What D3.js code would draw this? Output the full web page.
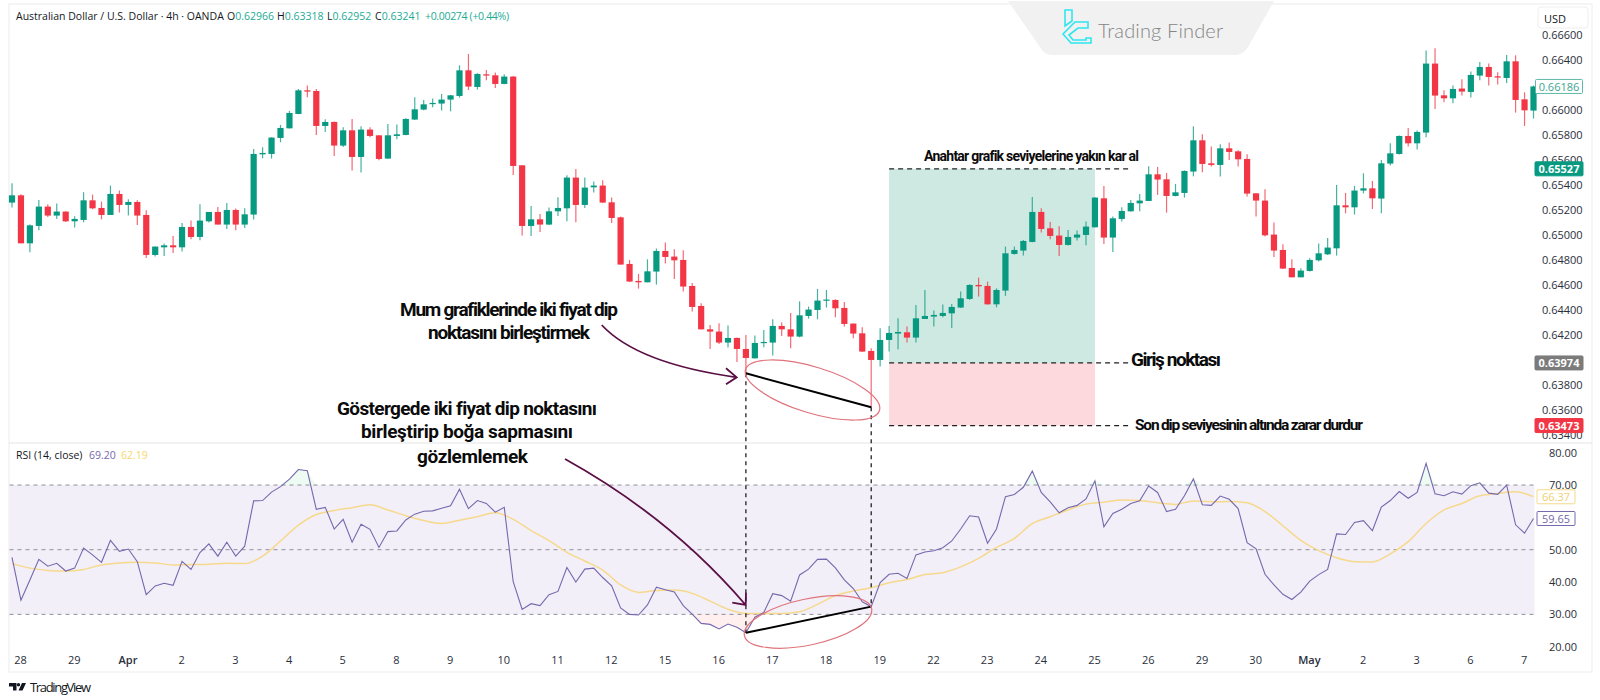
<!DOCTYPE html>
<html lang="tr">
<head>
<meta charset="utf-8">
<title>AUD/USD 4h RSI</title>
<script src="https://d3js.org/d3.v7.min.js"></script>
<style>
  html, body { margin: 0; background: #fff; }
  svg { display: block; }
  text { font-family: "Open Sans", sans-serif; fill: #131722; }
  .tick text { font-size: 11px; fill: #2a2e39; }
  .note { font-family: Roboto, sans-serif; font-weight: 700; fill: #0b0b0b; }
</style>
</head>
<body>
<svg class="chart" width="1600" height="700"></svg>
<script>
// candles, one per 4h bar
var opens = [
0.65257,0.65315,0.64931,0.65070,0.65225,0.65153,0.65185,0.65107,0.65118,0.65275,
0.65214,0.65158,0.65326,0.65238,0.65262,0.65158,0.64838,0.64899,0.64915,0.64899,
0.65062,0.64982,0.65107,0.65182,0.65081,0.65198,0.65081,0.65161,0.65643,0.65646,
0.65774,0.65851,0.65966,0.66155,0.66150,0.65870,0.65902,0.65713,0.65835,0.65622,
0.65841,0.65795,0.65609,0.65790,0.65798,0.65921,0.66001,0.66046,0.66049,0.66081,
0.66110,0.66315,0.66182,0.66283,0.66275,0.66206,0.66265,0.65555,0.65070,0.65123,
0.65081,0.65187,0.65211,0.65457,0.65238,0.65379,0.65393,0.65259,0.65139,0.64766,
0.64630,0.64619,0.64705,0.64870,0.64825,0.64798,0.64590,0.64430,0.64243,0.64225,
0.64137,0.64174,0.64086,0.64011,0.64134,0.64137,0.64270,0.64243,0.64185,0.64350,
0.64398,0.64473,0.64478,0.64414,0.64289,0.64211,0.64070,0.63998,0.64158,0.64209,
0.64219,0.64177,0.64326,0.64345,0.64350,0.64371,0.64417,0.64486,0.64598,0.64590,
0.64443,0.64553,0.64846,0.64873,0.64942,0.65182,0.65051,0.64993,0.64918,0.64977,
0.64998,0.65059,0.65291,0.64977,0.65126,0.65187,0.65251,0.65270,0.65483,0.65443,
0.65310,0.65334,0.65505,0.65755,0.65571,0.65558,0.65691,0.65667,0.65606,0.65331,
0.65273,0.65001,0.64878,0.64734,0.64659,0.64710,0.64795,0.64843,0.64891,0.65235,
0.65219,0.65353,0.65371,0.65289,0.65569,0.65646,0.65790,0.65731,0.65817,0.66369,
0.66115,0.66091,0.66169,0.66142,0.66273,0.66342,0.66267,0.66254,0.66387,0.66083,0.65993];
var highs = [
0.65411,0.65323,0.65081,0.65278,0.65243,0.65249,0.65187,0.65147,0.65339,0.65321,
0.65265,0.65393,0.65353,0.65283,0.65275,0.65195,0.64905,0.64929,0.64990,0.65094,
0.65113,0.65243,0.65182,0.65222,0.65254,0.65209,0.65211,0.65686,0.65699,0.65779,
0.65878,0.65990,0.66166,0.66193,0.66166,0.65923,0.65905,0.65859,0.65926,0.65867,
0.65859,0.65795,0.65886,0.65881,0.65931,0.66099,0.66078,0.66089,0.66126,0.66118,
0.66355,0.66446,0.66291,0.66318,0.66297,0.66283,0.66270,0.65555,0.65230,0.65166,
0.65217,0.65299,0.65475,0.65526,0.65457,0.65425,0.65435,0.65297,0.65145,0.64798,
0.64686,0.64803,0.64889,0.64937,0.64883,0.64875,0.64614,0.64451,0.64278,0.64291,
0.64273,0.64177,0.64198,0.64193,0.64238,0.64323,0.64297,0.64374,0.64467,0.64425,
0.64566,0.64558,0.64483,0.64462,0.64289,0.64259,0.64091,0.64251,0.64270,0.64331,
0.64265,0.64438,0.64558,0.64393,0.64441,0.64446,0.64545,0.64603,0.64657,0.64625,
0.64571,0.64905,0.64905,0.64958,0.65302,0.65211,0.65102,0.65067,0.65038,0.65033,
0.65105,0.65299,0.65390,0.65145,0.65219,0.65278,0.65326,0.65547,0.65542,0.65494,
0.65406,0.65515,0.65867,0.65803,0.65705,0.65723,0.65737,0.65675,0.65643,0.65331,
0.65363,0.65097,0.64923,0.64803,0.64731,0.64811,0.64929,0.64974,0.65398,0.65334,
0.65390,0.65491,0.65430,0.65598,0.65731,0.65793,0.65854,0.65833,0.66473,0.66491,
0.66155,0.66193,0.66243,0.66305,0.66382,0.66369,0.66299,0.66438,0.66435,0.66139,0.66193];
var lows = [
0.65217,0.64931,0.64859,0.65035,0.65142,0.65126,0.65102,0.65057,0.65099,0.65203,
0.65123,0.65158,0.65177,0.65153,0.65078,0.64814,0.64825,0.64830,0.64854,0.64865,
0.64963,0.64955,0.65097,0.65081,0.65046,0.65035,0.65054,0.65121,0.65611,0.65609,
0.65739,0.65849,0.65963,0.66099,0.65798,0.65822,0.65630,0.65702,0.65513,0.65497,
0.65779,0.65595,0.65606,0.65763,0.65795,0.65918,0.65995,0.66019,0.65993,0.65987,
0.66097,0.66158,0.66161,0.66235,0.66174,0.66203,0.65478,0.64993,0.64990,0.65022,
0.65078,0.65150,0.65107,0.65099,0.65214,0.65337,0.65254,0.65094,0.64761,0.64622,
0.64569,0.64619,0.64601,0.64769,0.64646,0.64545,0.64385,0.64241,0.64086,0.64126,
0.64097,0.63982,0.63891,0.64009,0.64099,0.64033,0.64190,0.64091,0.64179,0.64329,
0.64323,0.64417,0.64339,0.64265,0.64171,0.64062,0.63620,0.63945,0.64065,0.64083,
0.64137,0.64137,0.64326,0.64265,0.64339,0.64254,0.64414,0.64478,0.64505,0.64441,
0.64419,0.64510,0.64841,0.64833,0.64939,0.65017,0.64963,0.64830,0.64913,0.64953,
0.64915,0.65059,0.64926,0.64862,0.65105,0.65185,0.65187,0.65270,0.65318,0.65177,
0.65307,0.65297,0.65467,0.65499,0.65545,0.65465,0.65598,0.65545,0.65305,0.65145,
0.64985,0.64822,0.64726,0.64659,0.64659,0.64705,0.64785,0.64838,0.64833,0.65171,
0.65161,0.65331,0.65206,0.65171,0.65553,0.65641,0.65705,0.65681,0.65779,0.66006,
0.66059,0.66051,0.66113,0.66097,0.66235,0.66193,0.66201,0.66214,0.65977,0.65870,0.65929];
var closes = [
0.65315,0.64931,0.65075,0.65225,0.65153,0.65185,0.65107,0.65126,0.65275,0.65211,
0.65158,0.65326,0.65238,0.65262,0.65153,0.64838,0.64905,0.64915,0.64899,0.65062,
0.64982,0.65113,0.65182,0.65081,0.65198,0.65081,0.65163,0.65646,0.65654,0.65777,
0.65854,0.65974,0.66155,0.66145,0.65870,0.65902,0.65713,0.65835,0.65622,0.65841,
0.65790,0.65606,0.65795,0.65803,0.65926,0.66003,0.66043,0.66054,0.66081,0.66115,
0.66315,0.66185,0.66286,0.66273,0.66206,0.66265,0.65550,0.65070,0.65123,0.65081,
0.65187,0.65214,0.65457,0.65238,0.65377,0.65393,0.65257,0.65134,0.64761,0.64625,
0.64619,0.64707,0.64870,0.64822,0.64795,0.64585,0.64422,0.64243,0.64225,0.64137,
0.64174,0.64086,0.64014,0.64134,0.64142,0.64270,0.64243,0.64185,0.64355,0.64401,
0.64473,0.64481,0.64411,0.64286,0.64209,0.64065,0.63998,0.64158,0.64214,0.64222,
0.64177,0.64331,0.64350,0.64358,0.64374,0.64422,0.64491,0.64598,0.64587,0.64443,
0.64558,0.64851,0.64878,0.64950,0.65182,0.65046,0.64990,0.64918,0.64982,0.65001,
0.65065,0.65297,0.64977,0.65131,0.65190,0.65254,0.65273,0.65483,0.65441,0.65310,
0.65339,0.65510,0.65755,0.65566,0.65558,0.65691,0.65662,0.65603,0.65329,0.65273,
0.64995,0.64873,0.64729,0.64659,0.64713,0.64798,0.64851,0.64897,0.65235,0.65219,
0.65353,0.65371,0.65291,0.65571,0.65651,0.65790,0.65731,0.65822,0.66369,0.66113,
0.66091,0.66166,0.66145,0.66278,0.66342,0.66262,0.66257,0.66387,0.66078,0.65995,0.66186];

var rsiValues = [
47.6,34.4,40.6,47.0,44.9,45.8,43.4,44.3,50.5,48.4,
46.1,52.9,49.5,50.2,46.3,36.1,38.8,39.6,39.0,46.4,
43.9,49.1,51.8,48.0,52.3,48.0,51.1,65.1,65.2,67.8,
69.5,71.8,74.8,74.4,62.5,63.1,56.4,59.4,52.3,57.9,
56.3,50.7,55.6,55.8,59.2,61.0,61.9,62.0,62.8,63.6,
68.7,62.7,65.2,64.3,61.6,63.1,40.1,31.5,33.3,32.7,
36.1,37.1,44.5,40.0,44.0,44.3,41.4,38.8,32.0,30.0,
29.8,32.9,38.4,37.6,36.9,32.7,30.1,27.2,26.9,25.5,
27.0,26.0,24.3,29.1,30.6,36.4,35.8,34.1,42.2,44.0,
47.0,47.1,44.4,40.7,38.0,33.9,32.4,39.8,42.4,42.7,
41.1,48.4,49.3,49.7,50.6,52.7,56.4,60.5,60.1,52.0,
56.4,66.4,67.1,69.3,74.3,67.7,64.8,61.4,63.0,63.7,
65.7,71.3,57.1,61.2,62.5,64.3,65.1,69.7,67.7,61.8,
62.5,66.7,71.9,63.9,63.7,66.6,65.6,62.7,52.2,50.3,
42.4,39.1,36.2,34.6,36.9,40.3,42.3,43.9,54.9,54.7,
58.4,59.0,55.9,63.2,65.2,68.0,65.9,67.7,76.7,67.3,
66.7,67.9,67.2,69.8,70.7,67.5,67.1,70.0,57.7,55.1,59.65];

// yellow line read at every second bar
var rsiMaValues = [
45.7,44.3,43.6,43.4,43.9,45.3,45.9,46.1,45.9,45.3,
45.4,45.5,45.8,45.7,48.0,52.7,57.6,60.9,62.1,63.0,
63.9,62.3,60.5,59.0,58.1,59.1,60.2,61.4,59.4,55.9,
52.8,49.2,46.5,43.7,39.1,36.8,37.4,37.5,36.5,34.1,
31.6,30.3,30.3,30.3,30.8,33.1,35.8,37.2,38.2,39.8,
40.8,42.3,42.9,44.7,47.3,50.7,53.5,58.1,60.2,62.3,
64.1,64.7,65.4,65.2,64.5,64.0,65.1,64.8,64.9,64.5,
61.8,57.4,52.9,49.7,47.5,46.3,46.2,48.7,52.5,58.1,
62.3,64.3,66.7,67.4,67.9,66.37];

var dateLabels = ["28","29","Apr","2","3","4","5","8","9","10","11","12","15","16","17","18","19","22","23","24","25","26","29","30","May","2","3","6","7"];
var priceTicks = [0.634,0.636,0.638,0.642,0.644,0.646,0.648,0.650,0.652,0.654,0.656,0.658,0.660,0.664,0.666];
var rsiTicks = [20,30,40,50,70,80];
var rsiGuides = [70,50,30];

// position tool levels and last-value tags
var targetPrice = 0.65527;
var entryPrice = 0.63974;
var stopPrice = 0.63473;
var lastPrice = 0.66186;
var lastRsi = 59.65;
var lastRsiMa = 66.37;
var legendRsi = "69.20";
var legendRsiMa = "62.19";

var PURPLE = "#7568ad", YELLOW = "#f6d98c", GREEN = "#089981", RED = "#f23645", MAROON = "#5a0f45";

var svg = d3.select(".chart");

var x = d3.scaleLinear().domain([0, closes.length - 1]).range([12, 1533.5]);
var y = d3.scaleLinear().domain([0.634, 0.666]).range([434.7, 34.7]);
var rsiY = d3.scaleLinear().domain([20, 80]).range([646.7, 452.7]);

// frame
svg.append("rect").attr("x", 9).attr("y", 4).attr("width", 1583).attr("height", 668)
  .attr("fill", "none").attr("stroke", "#ececec");
svg.append("line").attr("x1", 9).attr("x2", 1592).attr("y1", 443).attr("y2", 443).attr("stroke", "#e4e4e4");

// long position boxes, behind the candles
var toolStart = 98, toolEnd = 121, levelEnd = 125;
svg.append("rect").attr("x", x(toolStart)).attr("y", y(targetPrice))
  .attr("width", x(toolEnd) - x(toolStart)).attr("height", y(entryPrice) - y(targetPrice)).attr("fill", "#cde9e2");
svg.append("rect").attr("x", x(toolStart)).attr("y", y(entryPrice))
  .attr("width", x(toolEnd) - x(toolStart)).attr("height", y(stopPrice) - y(entryPrice)).attr("fill", "#fdd8dc");

// candles
var bars = svg.append("g").selectAll("g").data(closes).enter().append("g")
  .attr("transform", function(d, i) { return "translate(" + x(i) + ",0)"; })
  .attr("fill", function(d, i) { return d >= opens[i] ? GREEN : RED; })
  .attr("stroke", function(d, i) { return d >= opens[i] ? GREEN : RED; });
bars.append("line")
  .attr("y1", function(d, i) { return y(highs[i]); })
  .attr("y2", function(d, i) { return y(lows[i]); })
  .attr("stroke-width", 1.2).attr("stroke-opacity", 0.75);
bars.append("rect").attr("x", -3.1).attr("width", 6.2).attr("stroke", "none")
  .attr("y", function(d, i) { return y(Math.max(opens[i], d)); })
  .attr("height", function(d, i) { return Math.max(1.2, Math.abs(y(opens[i]) - y(d))); });

// level lines
[targetPrice, entryPrice, stopPrice].forEach(function(p) {
  svg.append("line").attr("x1", x(toolStart)).attr("x2", x(levelEnd)).attr("y1", y(p)).attr("y2", y(p))
    .attr("stroke", "#222").attr("stroke-width", 1.2).attr("stroke-dasharray", "5,4");
});

// rsi pane
svg.append("rect").attr("x", 9.5).attr("y", rsiY(70)).attr("width", x(closes.length - 1) + 1 - 9.5)
  .attr("height", rsiY(30) - rsiY(70)).attr("fill", "#f2eff8");
rsiGuides.forEach(function(g) {
  svg.append("line").attr("x1", 9.5).attr("x2", x(closes.length - 1) + 1).attr("y1", rsiY(g)).attr("y2", rsiY(g))
    .attr("stroke", "#8f8f99").attr("stroke-width", 1).attr("stroke-dasharray", "4,4");
});
svg.append("path").datum(rsiValues).attr("fill", "#ff5252").attr("fill-opacity", 0.09)
  .attr("d", d3.area().x(function(d, i) { return x(i); }).y0(rsiY(30))
    .y1(function(d) { return rsiY(Math.min(d, 30)); }));
svg.append("path").datum(rsiValues).attr("fill", "#00c853").attr("fill-opacity", 0.07)
  .attr("d", d3.area().x(function(d, i) { return x(i); }).y0(rsiY(70))
    .y1(function(d) { return rsiY(Math.max(d, 70)); }));
svg.append("path").datum(rsiMaValues).attr("fill", "none").attr("stroke", YELLOW).attr("stroke-width", 1.5)
  .attr("d", d3.line().x(function(d, i) { return x(i * 2); }).y(function(d) { return rsiY(d); }).curve(d3.curveMonotoneX));
svg.append("path").datum(rsiValues).attr("fill", "none").attr("stroke", PURPLE).attr("stroke-width", 1.1)
  .attr("d", d3.line().x(function(d, i) { return x(i); }).y(function(d) { return rsiY(d); }));

// axes
var priceAxis = svg.append("g").attr("transform", "translate(1542,0)")
  .call(d3.axisRight(y).tickValues(priceTicks).tickFormat(d3.format(".5f")).tickSize(0).tickPadding(0));
var rsiAxis = svg.append("g").attr("transform", "translate(1549,0)")
  .call(d3.axisRight(rsiY).tickValues(rsiTicks).tickFormat(d3.format(".2f")).tickSize(0).tickPadding(0));
var dateAxis = svg.append("g").attr("transform", "translate(0,656)")
  .call(d3.axisBottom(x).tickValues(dateLabels.map(function(d, i) { return 0.9 + i * 6; }))
    .tickFormat(function(d, i) { return dateLabels[i]; }).tickSize(0).tickPadding(0));
dateAxis.selectAll("text").attr("font-weight", function(d, i) { return isNaN(+dateLabels[i]) ? 600 : 400; });
priceAxis.select(".domain").remove();
rsiAxis.select(".domain").remove();
dateAxis.select(".domain").remove();

// USD button
svg.append("rect").attr("x", 1538).attr("y", 7).attr("width", 50).attr("height", 21).attr("rx", 3)
  .attr("fill", "#fff").attr("stroke", "#eeeeee");
svg.append("text").attr("x", 1544).attr("y", 18).attr("dominant-baseline", "central").attr("font-size", 11).text("USD");

// last value tags
function tag(yPos, label, x0, w, fill, stroke, color, weight) {
  svg.append("rect").attr("x", x0).attr("y", yPos - 7).attr("width", w).attr("height", 14).attr("rx", 1)
    .attr("fill", fill).attr("stroke", stroke);
  svg.append("text").attr("x", x0 + w / 2).attr("y", yPos).attr("text-anchor", "middle").attr("dominant-baseline", "central")
    .attr("font-size", 11).attr("font-weight", weight).style("fill", color).text(label);
}
var fmt = d3.format(".5f");
tag(y(lastPrice), fmt(lastPrice), 1535.5, 47, "#fff", "#5fb8a6", "#3aa590", 400);
tag(y(targetPrice), fmt(targetPrice), 1535, 48, GREEN, GREEN, "#fff", 700);
tag(y(entryPrice), fmt(entryPrice), 1535, 48, "#7b7b7b", "#7b7b7b", "#fff", 700);
tag(y(stopPrice), fmt(stopPrice), 1535, 48, RED, RED, "#fff", 700);
tag(rsiY(lastRsiMa), lastRsiMa.toFixed(2), 1537, 38, "#fff", YELLOW, "#f0cf70", 400);
tag(rsiY(lastRsi), lastRsi.toFixed(2), 1537, 38, "#fff", PURPLE, PURPLE, 400);

// header legend
var header = svg.append("text").attr("x", 16).attr("y", 16).attr("dominant-baseline", "central").attr("font-size", 10.5);
header.append("tspan").text("Australian Dollar / U.S. Dollar · 4h · OANDA");
[["O", "0.62966", 227], ["H", "0.63318", 277], ["L", "0.62952", 327], ["C", "0.63241", 375]].forEach(function(r) {
  header.append("tspan").attr("x", r[2]).text(r[0]);
  header.append("tspan").style("fill", "#22ab94").text(r[1]);
});
header.append("tspan").attr("x", 425).attr("textLength", 84).style("fill", "#22ab94").text("+0.00274 (+0.44%)");

var rsiLegend = svg.append("text").attr("x", 16).attr("y", 455).attr("dominant-baseline", "central").attr("font-size", 10.5);
rsiLegend.append("tspan").text("RSI (14, close)");
rsiLegend.append("tspan").attr("x", 89).style("fill", PURPLE).text(legendRsi);
rsiLegend.append("tspan").attr("x", 121).style("fill", "#f5d76e").text(legendRsiMa);

// annotations
var notes = [
  ["Mum grafiklerinde iki fiyat dip", 400, 309, 19, 218],
  ["noktasını birleştirmek", 428, 332, 19, 162],
  ["Göstergede iki fiyat dip noktasını", 337, 408, 19, 260],
  ["birleştirip boğa sapmasını", 361, 431.5, 19, 212],
  ["gözlemlemek", 417, 456, 19, 111],
  ["Anahtar grafik seviyelerine yakın kar al", 924, 155.7, 14, 215],
  ["Giriş noktası", 1131, 359, 19, 90],
  ["Son dip seviyesinin altında zarar durdur", 1135, 425, 15.5, 228]
];
svg.selectAll(".note").data(notes).enter().append("text").attr("class", "note")
  .attr("x", function(d) { return d[1]; }).attr("y", function(d) { return d[2]; })
  .attr("font-size", function(d) { return d[3]; }).attr("dominant-baseline", "central")
  .attr("textLength", function(d) { return d[4]; }).attr("lengthAdjust", "spacing")
  .text(function(d) { return d[0]; });

// divergence: two lows joined on price and on rsi
var dipA = 82, dipB = 96;
[dipA, dipB].forEach(function(b) {
  svg.append("line").attr("x1", x(b)).attr("x2", x(b)).attr("y1", y(lows[b])).attr("y2", rsiY(rsiValues[b]))
    .attr("stroke", "#111").attr("stroke-width", 1.2).attr("stroke-dasharray", "4,4");
});
svg.append("line").attr("x1", x(dipA)).attr("x2", x(dipB)).attr("y1", y(lows[dipA])).attr("y2", y(lows[dipB]))
  .attr("stroke", "#000").attr("stroke-width", 2);
svg.append("line").attr("x1", x(dipA)).attr("x2", x(dipB)).attr("y1", rsiY(rsiValues[dipA])).attr("y2", rsiY(rsiValues[dipB]))
  .attr("stroke", "#000").attr("stroke-width", 2);
svg.append("ellipse").attr("rx", 70).attr("ry", 23).attr("transform", "translate(812.5,390) rotate(17)")
  .attr("fill", "none").attr("stroke", "#e0737c").attr("stroke-width", 1.2);
svg.append("ellipse").attr("rx", 65).attr("ry", 23).attr("transform", "translate(808,622) rotate(-12)")
  .attr("fill", "none").attr("stroke", "#e0737c").attr("stroke-width", 1.2);

// arrows
var arrows = svg.append("g").attr("fill", "none").attr("stroke", MAROON).attr("stroke-width", 1.8);
arrows.append("path").attr("d", "M601.7,325 C625,350 670,368 736.7,377.3 M726,368.3 L736.7,377.3 L726,384.3");
arrows.append("path").attr("d", "M565,459 C630,495 690,540 745.7,605 M746,592.7 L745.7,605 L732.3,602.7");

// watermark
svg.append("path").attr("fill", "#f1f1f1")
  .attr("d", "M1008,1 L1274,1 L1248,47 Q1243,55 1235,55 L1052,55 Q1044,55 1040,47 Z");
svg.append("path").attr("fill", "none").attr("stroke", "#2ee6f2").attr("stroke-width", 1.6)
  .attr("d", "M1065,10 h7 v11 l-7,5 z M1075,22 h13 v6 h-10 l-9,7 l4,5 h13 v-2 h5 v5 h-20 l-8,-9 z");
svg.append("text").attr("x", 1098).attr("y", 30).attr("dominant-baseline", "central")
  .attr("font-size", 20).attr("font-weight", 300).attr("textLength", 125)
  .style("font-family", "Lato").style("fill", "#858585").text("Trading Finder");

// tradingview mark
svg.append("path").attr("fill", "#131722")
  .attr("d", "M9,683 h7.5 v7.5 h-3.5 v-4 h-4 z M22,683 h4 l-3.5,7.5 h-4 z");
svg.append("circle").attr("cx", 18.5).attr("cy", 684.7).attr("r", 1.7).attr("fill", "#131722");
svg.append("text").attr("x", 30).attr("y", 687).attr("dominant-baseline", "central")
  .attr("font-size", 13).attr("textLength", 61).text("TradingView");
</script>
</body>
</html>
